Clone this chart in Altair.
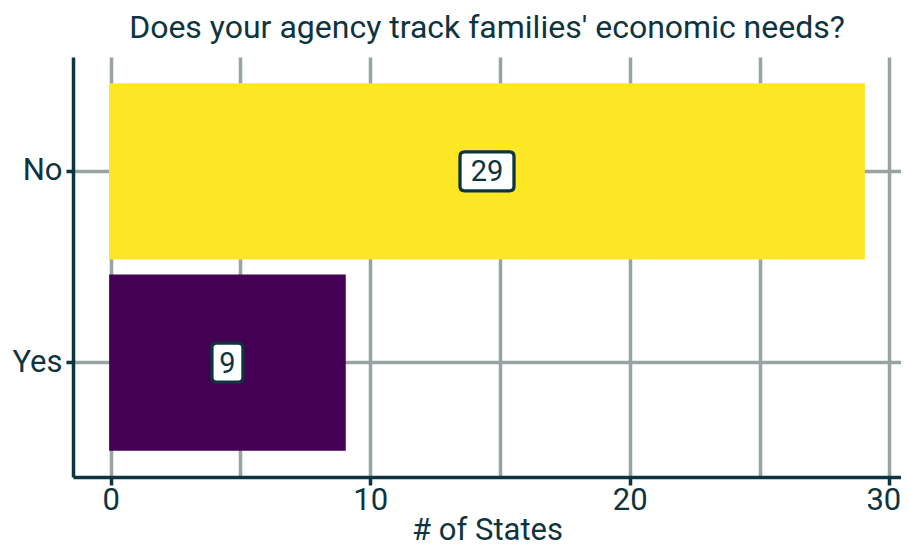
import altair as alt
import pandas as pd

answers = ["No", "Yes"]
states = [29, 9]

DARK = "#0E3440"
GRID = "#98A3A2"
FONT = "Roboto"

df = pd.DataFrame({"answer": answers, "states": states})
df["mid"] = df["states"] / 2

def rrect(hw, hh, r):
    return (f"M {-hw + r},{-hh} L {hw - r},{-hh} Q {hw},{-hh} {hw},{-hh + r} "
            f"L {hw},{hh - r} Q {hw},{hh} {hw - r},{hh} L {-hw + r},{hh} "
            f"Q {-hw},{hh} {-hw},{hh - r} L {-hw},{-hh + r} Q {-hw},{-hh} {-hw + r},{-hh} Z")

wide = rrect(1.0, 0.72, 0.17)
narrow = rrect(0.574, 0.72, 0.17)

y_enc = alt.Y(
    "answer:N",
    sort=answers,
    title=None,
    scale=alt.Scale(paddingInner=0.094, paddingOuter=0.145),
    axis=alt.Axis(
        bandPosition=0.5,
        grid=True,
        gridColor=GRID,
        gridWidth=3.5,
        domainColor=DARK,
        domainWidth=3.5,
        tickColor=DARK,
        tickWidth=3.5,
        tickSize=7,
        labelFont=FONT,
        labelFontSize=31,
        labelColor=DARK,
        labelPadding=4,
    ),
)

x_scale = alt.Scale(domain=[-1.45, 30.45], nice=False, zero=False)

bars = alt.Chart(df).mark_bar(opacity=1, strokeWidth=3).encode(
    x=alt.X(
        "states:Q",
        scale=x_scale,
        title="# of States",
        axis=alt.Axis(
            values=[0, 5, 10, 15, 20, 25, 30],
            labelExpr="datum.value % 10 === 0 ? datum.label : ''",
            labelOffset={"condition": {"test": "datum.value === 30", "value": -6}, "value": 0},
            tickOpacity={"condition": {"test": "datum.value % 10 !== 0", "value": 0}, "value": 1},
            grid=True,
            gridColor=GRID,
            gridWidth=3.5,
            domainColor=DARK,
            domainWidth=3.5,
            tickColor=DARK,
            tickWidth=3.5,
            tickSize=8,
            labelFont=FONT,
            labelFontSize=31,
            labelColor=DARK,
            labelPadding=0,
            titleFont=FONT,
            titleFontSize=31,
            titleFontWeight="normal",
            titleColor=DARK,
            titlePadding=0,
        ),
    ),
    x2=alt.datum(0),
    y=y_enc,
    color=alt.Color(
        "answer:N",
        scale=alt.Scale(domain=answers, range=["#FDE725", "#440154"]),
        legend=None,
    ),
    stroke=alt.Stroke(
        "answer:N",
        scale=alt.Scale(domain=answers, range=["#FDE725", "#440154"]),
        legend=None,
    ),
)

boxes = alt.Chart(df).mark_point(
    filled=True, fill="white", stroke=DARK, strokeWidth=3.3, opacity=1, size=54 * 54
).encode(
    x=alt.X("mid:Q", scale=x_scale),
    y=alt.Y("answer:N", sort=answers),
    shape=alt.Shape("answer:N", scale=alt.Scale(domain=answers, range=[wide, narrow]), legend=None),
)

labels = alt.Chart(df).mark_text(
    font=FONT, fontSize=29, color=DARK, baseline="middle", align="center", dy=1
).encode(
    x=alt.X("mid:Q", scale=x_scale),
    y=alt.Y("answer:N", sort=answers),
    text=alt.Text("states:Q"),
)

chart = (
    alt.layer(bars, boxes, labels)
    .properties(
        width=828,
        height=420,
        padding={"left": 65, "top": 49, "right": 0, "bottom": 69},
        autosize=alt.AutoSizeParams(type="none"),
        title=alt.TitleParams(
            "Does your agency track families' economic needs?",
            font=FONT,
            fontSize=32,
            fontWeight="normal",
            color=DARK,
            offset=12,
            anchor="middle",
        ),
    )
    .configure_view(stroke=None)
)

chart.save("out.html", embed_options={"renderer": "svg", "actions": False})
